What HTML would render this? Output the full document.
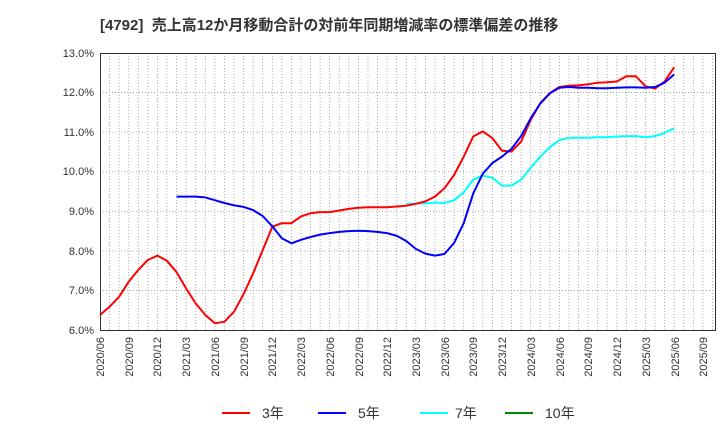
<!DOCTYPE html>
<html><head><meta charset="utf-8"><style>
body{margin:0;background:#fff;}
svg{display:block;font-family:"Liberation Sans","Noto Sans CJK JP",sans-serif;}
</style></head><body>
<svg id="s" width="720" height="440" viewBox="0 0 720 440">
<text x="100" y="30" font-size="15" font-weight="bold" fill="#333" xml:space="preserve">[4792]  売上高12か月移動合計の対前年同期増減率の標準偏差の推移</text>
<g id="grid"></g>
<g font-size="11" fill="#333" text-anchor="end">
<text x="94" y="57">13.0%</text><text x="94" y="96">12.0%</text><text x="94" y="136">11.0%</text><text x="94" y="175">10.0%</text><text x="94" y="215">9.0%</text><text x="94" y="255">8.0%</text><text x="94" y="294">7.0%</text><text x="94" y="334">6.0%</text>
</g>
<g id="xl" font-size="11" fill="#333" text-anchor="end">
<text transform="translate(104,337) rotate(-90)">2020/06</text>
<text transform="translate(133,337) rotate(-90)">2020/09</text>
<text transform="translate(161,337) rotate(-90)">2020/12</text>
<text transform="translate(190,337) rotate(-90)">2021/03</text>
<text transform="translate(219,337) rotate(-90)">2021/06</text>
<text transform="translate(248,337) rotate(-90)">2021/09</text>
<text transform="translate(276,337) rotate(-90)">2021/12</text>
<text transform="translate(305,337) rotate(-90)">2022/03</text>
<text transform="translate(334,337) rotate(-90)">2022/06</text>
<text transform="translate(363,337) rotate(-90)">2022/09</text>
<text transform="translate(391,337) rotate(-90)">2022/12</text>
<text transform="translate(420,337) rotate(-90)">2023/03</text>
<text transform="translate(449,337) rotate(-90)">2023/06</text>
<text transform="translate(477,337) rotate(-90)">2023/09</text>
<text transform="translate(506,337) rotate(-90)">2023/12</text>
<text transform="translate(535,337) rotate(-90)">2024/03</text>
<text transform="translate(564,337) rotate(-90)">2024/06</text>
<text transform="translate(592,337) rotate(-90)">2024/09</text>
<text transform="translate(621,337) rotate(-90)">2024/12</text>
<text transform="translate(650,337) rotate(-90)">2025/03</text>
<text transform="translate(679,337) rotate(-90)">2025/06</text>
<text transform="translate(707,337) rotate(-90)">2025/09</text>
</g>
<g id="lines"></g>
<rect x="100.5" y="53.5" width="615" height="277" fill="none" stroke="#333" stroke-width="1"/>
<g font-size="14" fill="#333">
<line x1="222" y1="413" x2="250" y2="413" stroke="#f00" stroke-width="2"/><text x="262" y="418">3年</text>
<line x1="318" y1="413" x2="346" y2="413" stroke="#00f" stroke-width="2"/><text x="358" y="418">5年</text>
<line x1="420" y1="413" x2="448" y2="413" stroke="#0ff" stroke-width="2"/><text x="455" y="418">7年</text>
<line x1="505" y1="413" x2="533" y2="413" stroke="#080" stroke-width="2"/><text x="545" y="418">10年</text>
</g>
</svg>
<script>
var L=100,R=715,T=53,B=330,dx=9.57;
function X(i){return L+i*dx;}function Y(v){return B-(v-6)*(B-T)/7;}
var g='';
for(var i=1;i<65;i++){if(X(i)<R-1)g+='<line x1="'+X(i)+'" y1="'+T+'" x2="'+X(i)+'" y2="'+B+'" stroke="#999" stroke-width="0.8" stroke-dasharray="1,2"/>';}
for(var v=7;v<13;v++){g+='<line x1="'+L+'" y1="'+Y(v)+'" x2="'+R+'" y2="'+Y(v)+'" stroke="#999" stroke-width="0.8" stroke-dasharray="1,2"/>';}
document.getElementById('grid').innerHTML=g;
var red=[6.38,6.59,6.84,7.22,7.52,7.77,7.88,7.75,7.46,7.05,6.67,6.38,6.17,6.21,6.46,6.91,7.43,8.02,8.61,8.70,8.70,8.87,8.95,8.98,8.98,9.02,9.06,9.09,9.10,9.10,9.10,9.12,9.14,9.19,9.25,9.37,9.58,9.92,10.38,10.89,11.02,10.85,10.53,10.51,10.76,11.31,11.73,11.99,12.14,12.17,12.18,12.21,12.25,12.26,12.28,12.41,12.41,12.16,12.10,12.28,12.64];
var blue=[9.37,9.37,9.37,9.35,9.28,9.21,9.15,9.11,9.03,8.88,8.62,8.32,8.19,8.28,8.35,8.41,8.45,8.48,8.5,8.51,8.5,8.48,8.45,8.38,8.25,8.05,7.93,7.88,7.92,8.2,8.7,9.45,9.95,10.22,10.38,10.58,10.9,11.35,11.72,11.98,12.12,12.14,12.12,12.12,12.11,12.11,12.12,12.13,12.13,12.12,12.14,12.25,12.46];
var cyan=[9.18,9.2,9.2,9.22,9.21,9.28,9.48,9.8,9.9,9.85,9.65,9.65,9.8,10.1,10.38,10.62,10.8,10.86,10.86,10.86,10.87,10.87,10.89,10.9,10.9,10.87,10.9,10.98,11.1];
function pl(a,s,c){var p=a.map(function(v,k){return X(s+k).toFixed(1)+','+Y(v).toFixed(1)}).join(' ');return '<polyline points="'+p+'" fill="none" stroke="'+c+'" stroke-width="2" stroke-linejoin="round"/>';}
document.getElementById('lines').innerHTML=pl(cyan,32,'#0ff')+pl(red,0,'#f00')+pl(blue,8,'#00f');
</script>
</body></html>
